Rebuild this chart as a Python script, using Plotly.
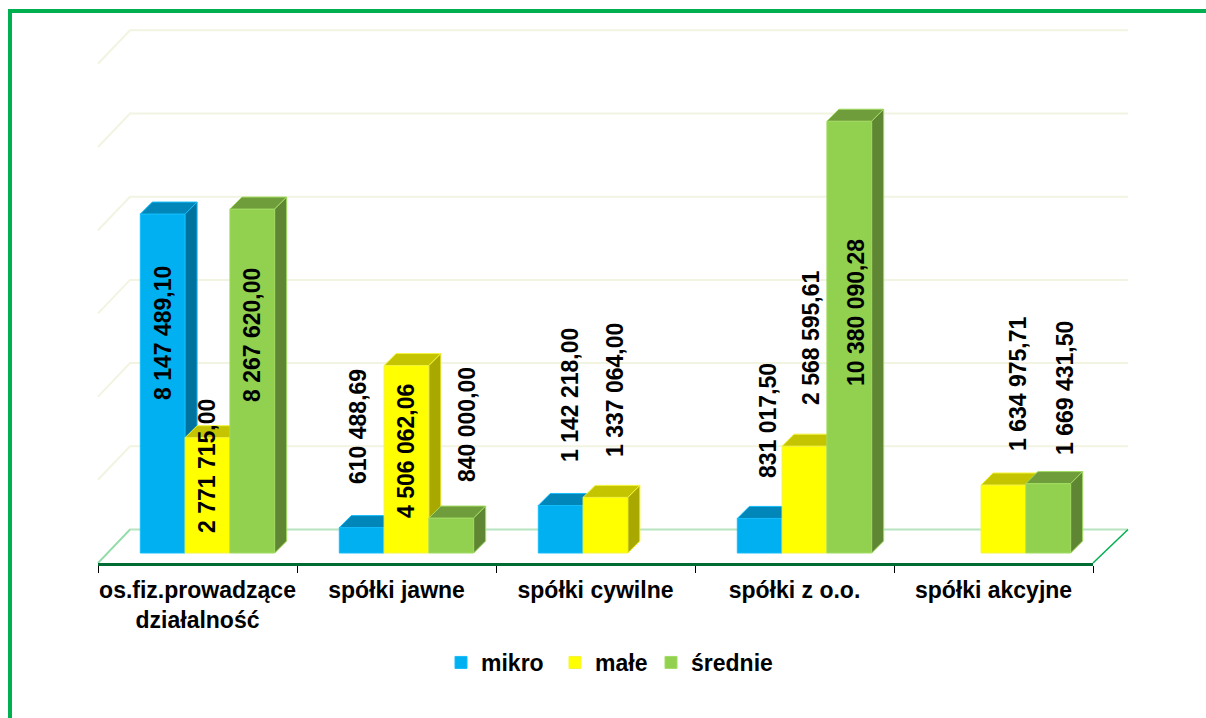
import plotly.graph_objects as go

categories = ["os.fiz.prowadzące<br>działalność", "spółki jawne", "spółki cywilne", "spółki z o.o.", "spółki akcyjne"]
series_names = ["mikro", "małe", "średnie"]
mikro = [8147489.10, 610488.69, 1142218.00, 831017.50, None]
male = [2771715.00, 4506062.06, 1337064.00, 2568595.61, 1634975.71]
srednie = [8267620.00, 840000.00, None, 10380090.28, 1669431.50]
grid_values = [0, 2e6, 4e6, 6e6, 8e6, 10e6, 12e6]


def fmt(v):
    s = f"{v:,.2f}"
    return s.replace(",", " ").replace(".", ",")


W, H = 1206, 718
X0 = 197.5      # pixel of category 0
CAT = 199.0     # pixels per category
Y0 = 553.0      # pixel of value zero at the bars' front
PXM = 41.6 / 1e6  # pixels per unit of value
BAR = 44.8 / CAT
SHIFT = 10.0 / CAT
DX, DY = 12 / CAT, 12 / PXM
BACK_Y = 23.5 / PXM
FLOOR_X = 32 / CAT

xr = [(0 - X0) / CAT, (W - X0) / CAT]
yr = [(Y0 - H) / PXM, Y0 / PXM]

FONT = "Liberation Sans, Arial, sans-serif"
COLORS = {
    "mikro": ("#00B0F0", "#0086B8", "#00729E", "#14BDFA"),
    "małe": ("#FFFF00", "#C4C400", "#A8A800", "#F4F43C"),
    "średnie": ("#92D050", "#6F9D3C", "#5F8633", "#A2DC62"),
}

fig = go.Figure()

# back plane grid and floor
for v in grid_values:
    c = "#B8E4C2" if v == 0 else "#F2F4E2"
    fig.add_trace(go.Scatter(
        x=[-0.5, -0.5 + FLOOR_X, 4.5 + FLOOR_X + 3 / CAT],
        y=[v - 10 / PXM, v + BACK_Y, v + BACK_Y],
        mode="lines", line=dict(color=c, width=2), hoverinfo="skip", showlegend=False,
        xaxis="x", yaxis="y"))
# floor edges
fig.add_trace(go.Scatter(
    x=[4.5, 4.5 + FLOOR_X + 3 / CAT], y=[-10 / PXM, BACK_Y],
    mode="lines", line=dict(color="#00B050", width=1.5), hoverinfo="skip", showlegend=False,
    xaxis="x", yaxis="y"))
fig.add_trace(go.Scatter(
    x=[-0.5, -0.5 + FLOOR_X], y=[-10 / PXM, BACK_Y],
    mode="lines", line=dict(color="#8FDDA8", width=1.5), hoverinfo="skip", showlegend=False,
    xaxis="x", yaxis="y"))

for k, (name, vals) in enumerate(zip(series_names, [mikro, male, srednie])):
    front, top, side, edge = COLORS[name]
    ax = str(k + 2)
    xs = [i + SHIFT + (k - 1) * BAR for i in range(len(vals))]
    fig.add_trace(go.Bar(
        x=xs, y=vals, width=BAR, name=name,
        marker=dict(color=front, line=dict(color=edge, width=1)),
        legend="legend" if k == 0 else f"legend{k + 1}",
        hoverinfo="skip", xaxis="x" + ax, yaxis="y" + ax))
    for x, v in zip(xs, vals):
        if v is None:
            continue
        l, r = x - BAR / 2, x + BAR / 2
        fig.add_trace(go.Scatter(
            x=[l, l + DX, r + DX, r, l], y=[v, v + DY, v + DY, v, v],
            fill="toself", fillcolor=top, mode="lines", line=dict(color=edge, width=1),
            hoverinfo="skip", showlegend=False, xaxis="x" + ax, yaxis="y" + ax))
        fig.add_trace(go.Scatter(
            x=[r, r + DX, r + DX, r, r], y=[0, DY, v + DY, v, 0],
            fill="toself", fillcolor=side, mode="lines", line=dict(color=edge, width=1),
            hoverinfo="skip", showlegend=False, xaxis="x" + ax, yaxis="y" + ax))

# category axis carrier
fig.add_trace(go.Scatter(x=list(range(5)), y=[None] * 5, mode="lines", hoverinfo="skip",
                         showlegend=False, xaxis="x5", yaxis="y5"))

# value labels: pixel placement of each rotated label
label_vals = [mikro[0], male[0], srednie[0], mikro[1], male[1], srednie[1], mikro[2], male[2],
              mikro[3], male[3], srednie[3], male[4], srednie[4]]
label_px = [(163, 333), (207, 466), (252, 335), (358, 427), (406, 451), (467, 425), (570, 395),
            (615, 390), (768, 421), (811, 338), (856, 313), (1018, 384), (1065, 388)]
annotations = []
for v, (px, py) in zip(label_vals, label_px):
    annotations.append(dict(
        x=(px - X0) / CAT, y=(Y0 - py) / PXM, xref="x", yref="y", text=fmt(v), textangle=-90,
        showarrow=False, font=dict(family=FONT, size=23, color="#000000", weight="bold")))

axis_off = dict(visible=False, showgrid=False, zeroline=False, fixedrange=True)
legend_font = dict(family=FONT, size=23, weight="bold")
layout = dict(
    width=W, height=H, margin=dict(l=0, r=0, t=0, b=0),
    paper_bgcolor="white", plot_bgcolor="rgba(0,0,0,0)",
    barmode="overlay",
    font=dict(family=FONT, size=23, color="#000000"),
    annotations=annotations,
    shapes=[dict(type="path", xref="paper", yref="paper",
                 path=f"M {10 / W},0 L {10 / W},{1 - 11 / H} L 1,{1 - 11 / H}",
                 line=dict(color="#00B050", width=4))],
    xaxis=dict(axis_off, range=xr, domain=[0, 1]),
    yaxis=dict(axis_off, range=yr, domain=[0, 1]),
    xaxis5=dict(range=[-0.5, 4.5], domain=[98 / W, 1093 / W], anchor="y5",
                tickmode="array", tickvals=list(range(5)), ticktext=categories,
                ticks="", showgrid=False, zeroline=False, fixedrange=True,
                showline=True, linecolor="#006B32", linewidth=3,
                ticklabelstandoff=4,
                tickfont=dict(family=FONT, size=23, color="#000000", weight="bold"),
                minor=dict(tickmode="array", tickvals=[-0.5, 0.5, 1.5, 2.5, 3.5, 4.5],
                           ticks="outside", ticklen=7, tickwidth=1, tickcolor="#000000", showgrid=False)),
    yaxis5=dict(axis_off, range=[0, 1], domain=[(H - 563) / H, 1], anchor="x5"),
    legend=dict(x=441 / W, y=1 - 641 / H, xanchor="left", yanchor="top",
                font=legend_font, bgcolor="rgba(0,0,0,0)", borderwidth=0),
    legend2=dict(x=555 / W, y=1 - 641 / H, xanchor="left", yanchor="top",
                 font=legend_font, bgcolor="rgba(0,0,0,0)", borderwidth=0),
    legend3=dict(x=651 / W, y=1 - 641 / H, xanchor="left", yanchor="top",
                 font=legend_font, bgcolor="rgba(0,0,0,0)", borderwidth=0),
)
for n in ("2", "3", "4"):
    layout["xaxis" + n] = dict(axis_off, range=xr, overlaying="x", anchor="y" + n)
    layout["yaxis" + n] = dict(axis_off, range=yr, overlaying="y", anchor="x" + n)
fig.update_layout(**layout)

fig.write_html("out.html", config=dict(displayModeBar=False),
               post_script="document.body.style.margin='0';document.body.style.overflow='hidden';")
